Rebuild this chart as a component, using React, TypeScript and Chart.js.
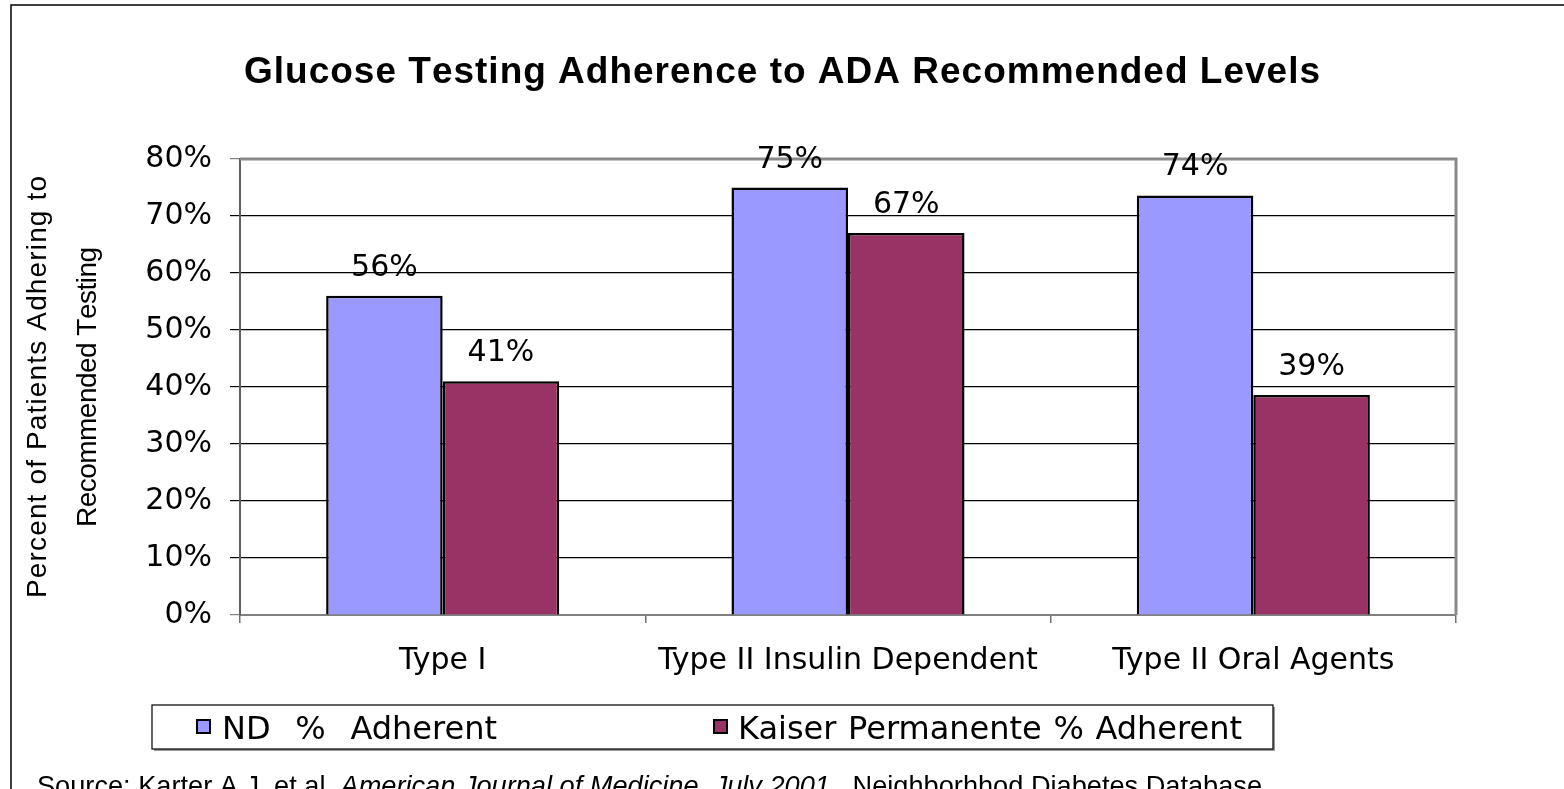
import React, { useEffect, useRef } from "react";
import { Chart, registerables } from "chart.js";

Chart.register(...registerables);

const categories = ["Type I", "Type II Insulin Dependent", "Type II Oral Agents"];
const ndValues = [56, 75, 73.6];
const kaiserValues = [41, 67, 38.6];
const seriesNames = ["ND % Adherent", "Kaiser Permanente % Adherent"];
const seriesColors = ["#9999FF", "#993366"];
const chartTitle = "Glucose Testing Adherence to ADA Recommended Levels";
const yTitleLines = ["Percent of Patients Adhering to", "Recommended Testing"];
const sourceParts = [
  { text: "Source: Karter A.J. et al. ", italic: false },
  { text: "American Journal of Medicine, July 2001", italic: true },
  { text: ".  Neighborhhod Diabetes Database", italic: false },
];

const AXIS_FONT = '"DejaVu Sans", Verdana, sans-serif';
const ARIAL = '"Liberation Sans", Arial, sans-serif';

const W = 1564;
const H = 789;

// draws text character by character, spreading it evenly over the target width
function drawSpaced(
  ctx: CanvasRenderingContext2D,
  text: string,
  x: number,
  y: number,
  target: number,
  align: "left" | "center" = "left"
) {
  const chars = Array.from(text);
  const natural = chars.reduce((s, c) => s + ctx.measureText(c).width, 0);
  const ls = chars.length > 1 ? (target - natural) / (chars.length - 1) : 0;
  let cx = align === "center" ? x - target / 2 : x;
  ctx.textAlign = "left";
  chars.forEach((c) => {
    ctx.fillText(c, cx, y);
    cx += ctx.measureText(c).width + ls;
  });
}

// spreads extra width over word gaps only
function drawWords(ctx: CanvasRenderingContext2D, text: string, x: number, y: number, target: number) {
  const words = text.split(" ");
  const spaceW = ctx.measureText(" ").width;
  const natural = ctx.measureText(text).width;
  const extra = words.length > 1 ? (target - natural) / (words.length - 1) : 0;
  let cx = x;
  ctx.textAlign = "left";
  words.forEach((w) => {
    ctx.fillText(w, cx, y);
    cx += ctx.measureText(w).width + spaceW + extra;
  });
}

const decorPlugin = {
  id: "decor",
  afterDraw(chart: any) {
    const ctx: CanvasRenderingContext2D = chart.ctx;
    const area = chart.chartArea;
    ctx.save();

    // plot border top & right
    ctx.strokeStyle = "#8a8a8a";
    ctx.lineWidth = 3;
    ctx.beginPath();
    ctx.moveTo(area.left, area.top);
    ctx.lineTo(area.right, area.top);
    ctx.lineTo(area.right, area.bottom);
    ctx.stroke();

    // outer frame
    ctx.strokeStyle = "#000";
    ctx.lineWidth = 1.5;
    ctx.beginPath();
    ctx.moveTo(11, H);
    ctx.lineTo(11, 5);
    ctx.lineTo(W, 5);
    ctx.stroke();

    // title
    ctx.fillStyle = "#000";
    ctx.textBaseline = "alphabetic";
    ctx.font = `bold 37px ${ARIAL}`;
    drawSpaced(ctx, chartTitle, 244, 83, 1076, "left");

    // y axis title
    ctx.font = `28px ${ARIAL}`;
    ctx.textBaseline = "middle";
    const cy = (area.top + area.bottom) / 2;
    const xs = [38, 88];
    yTitleLines.forEach((line, i) => {
      ctx.save();
      ctx.translate(xs[i], cy);
      ctx.rotate(-Math.PI / 2);
      const target = i === 0 ? 422 : 280;
      drawSpaced(ctx, line, 0, 0, target, "center");
      ctx.restore();
    });

    // data labels
    ctx.font = `30px ${AXIS_FONT}`;
    ctx.textAlign = "center";
    ctx.textBaseline = "alphabetic";
    chart.data.datasets.forEach((ds: any, di: number) => {
      const meta = chart.getDatasetMeta(di);
      meta.data.forEach((el: any, i: number) => {
        const v = ds.data[i];
        ctx.fillText(Math.round(v) + "%", el.x, el.y - 20);
      });
    });

    // legend
    const lx = 152, ly = 705, lw = 1121, lh = 44;
    ctx.fillStyle = "#9a9a9a";
    ctx.fillRect(lx + 2, ly + 2, lw, lh);
    ctx.fillStyle = "#fff";
    ctx.fillRect(lx, ly, lw, lh);
    ctx.strokeStyle = "#000";
    ctx.lineWidth = 1.2;
    ctx.strokeRect(lx, ly, lw, lh);
    const items = [
      { sx: 197, tx: 222, tw: 275 },
      { sx: 714, tx: 738, tw: 504 },
    ];
    items.forEach((it, i) => {
      ctx.fillStyle = seriesColors[i];
      ctx.fillRect(it.sx, 720, 13, 13);
      ctx.strokeStyle = "#000";
      ctx.lineWidth = 2;
      ctx.strokeRect(it.sx, 720, 13, 13);
      ctx.fillStyle = "#000";
      ctx.font = `32px ${AXIS_FONT}`;
      ctx.textBaseline = "alphabetic";
      drawWords(ctx, seriesNames[i], it.tx, 739, it.tw);
    });

    // source
    ctx.fillStyle = "#000";
    ctx.textBaseline = "alphabetic";
    let total = 0;
    const widths = sourceParts.map((p) => {
      ctx.font = `${p.italic ? "italic " : ""}28px ${ARIAL}`;
      const w = ctx.measureText(p.text).width;
      total += w;
      return w;
    });
    ctx.save();
    ctx.translate(37, 795);
    ctx.scale(1225 / total, 1);
    let x = 0;
    sourceParts.forEach((p, i) => {
      ctx.font = `${p.italic ? "italic " : ""}28px ${ARIAL}`;
      ctx.textAlign = "left";
      ctx.fillText(p.text, x, 0);
      x += widths[i];
    });
    ctx.restore();

    ctx.restore();
  },
};

export default function App() {
  const ref = useRef<HTMLCanvasElement | null>(null);
  useEffect(() => {
    if (!ref.current) return;
    const chart = new Chart(ref.current, {
      type: "bar",
      data: {
        labels: categories,
        datasets: [
          {
            label: seriesNames[0],
            data: ndValues,
            backgroundColor: seriesColors[0],
            borderColor: "#000",
            borderWidth: 2.5,
            categoryPercentage: 0.575,
            barPercentage: 1,
          },
          {
            label: seriesNames[1],
            data: kaiserValues,
            backgroundColor: seriesColors[1],
            borderColor: "#000",
            borderWidth: 2.5,
            categoryPercentage: 0.575,
            barPercentage: 1,
          },
        ],
      },
      options: {
        responsive: false,
        animation: false,
        layout: { padding: { top: 159, right: 108, bottom: 0, left: 0 } },
        plugins: {
          legend: { display: false },
          title: { display: false },
          tooltip: { enabled: false },
        },
        scales: {
          x: {
            grid: {
              offset: true,
              drawOnChartArea: false,
              drawTicks: true,
              tickLength: 8,
              color: "#707070",
              lineWidth: 1.5,
            },
            border: { color: "#808080", width: 2 },
            ticks: {
              font: { size: 30, family: AXIS_FONT },
              color: "#000",
              padding: 20,
            },
            afterFit: (s: any) => {
              s.height = 174;
            },
          },
          y: {
            min: 0,
            max: 80,
            grid: {
              color: (c: any) =>
                c.tick && (c.tick.value === 80 || c.tick.value === 0) ? "#808080" : "#000",
              lineWidth: 1.2,
              tickLength: 10,
            },
            border: { color: "#606060", width: 2 },
            ticks: {
              stepSize: 10,
              callback: (v: any) => v + "%",
              font: { size: 30, family: AXIS_FONT },
              color: "#000",
              padding: 18,
            },
            afterFit: (s: any) => {
              s.width = 240;
            },
          },
        },
      },
      plugins: [decorPlugin],
    });
    return () => chart.destroy();
  }, []);
  return (
    <div style={{ position: "fixed", left: 0, top: 0, width: W, height: H, background: "#fff" }}>
      <canvas ref={ref} width={W} height={H} style={{ display: "block" }} />
    </div>
  );
}
